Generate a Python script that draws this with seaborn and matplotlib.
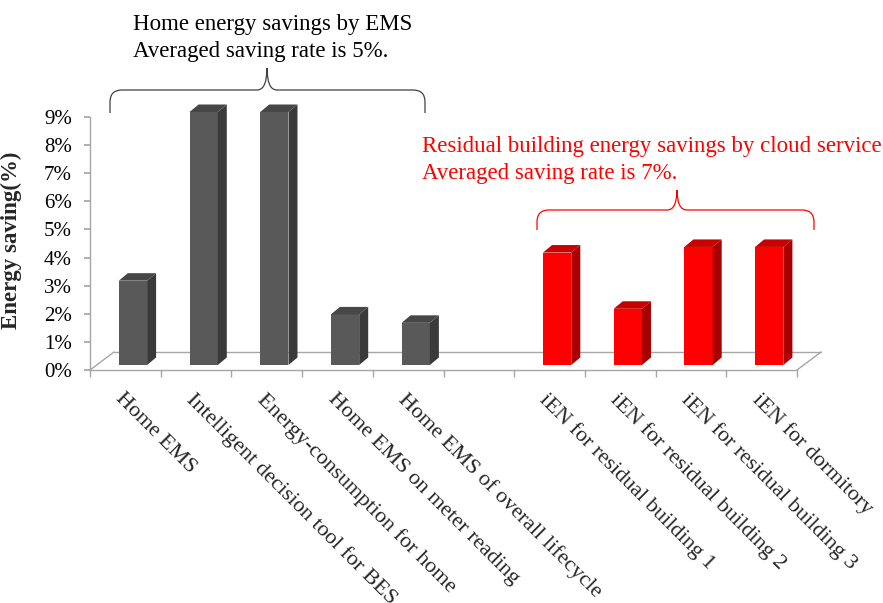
import numpy as np
import pandas as pd
import matplotlib
matplotlib.use("Agg")
import matplotlib.pyplot as plt
import seaborn as sns
from matplotlib.transforms import ScaledTranslation
from matplotlib.patches import Polygon, PathPatch
from matplotlib.path import Path

# ---------------- data ----------------
home_categories = ["Home EMS", "Intelligent decision tool for BES", "Energy-consumption for home",
                   "Home EMS on meter reading", "Home EMS of overall lifecycle"]
home_values = [3.0, 9.0, 9.0, 1.8, 1.5]
cloud_categories = ["iEN for residual building 1", "iEN for residual building 2",
                    "iEN for residual building 3", "iEN for dormitory"]
cloud_values = [4.0, 2.0, 4.2, 4.2]
gap_category = [" "]
y_ticks = [0, 1, 2, 3, 4, 5, 6, 7, 8, 9]
y_tick_labels = [f"{v}%" for v in y_ticks]
home_note = ["Home energy savings by EMS", "Averaged saving rate is 5%."]
cloud_note = ["Residual building energy savings by cloud service", "Averaged saving rate is 7%."]

order = home_categories + gap_category + cloud_categories
df = pd.DataFrame({
    "category": home_categories + cloud_categories,
    "saving": home_values + cloud_values,
    "group": ["EMS"] * len(home_categories) + ["Cloud"] * len(cloud_categories),
})

front = {"EMS": "#595959", "Cloud": "#FF0000"}
side = {"EMS": "#3a3a3a", "Cloud": "#a80000"}
top = {"EMS": "#474747", "Cloud": "#c80000"}

# ---------------- figure ----------------
sns.set_theme(style="white")
plt.rcParams["font.family"] = ["Liberation Serif", "DejaVu Serif"]

W, H = 883, 603
fig = plt.figure(figsize=(W / 100, H / 100), dpi=100)
ax_left, ax_right, ax_top, ax_bottom = 90, 797, 117, 370
ax = fig.add_axes([ax_left / W, 1 - ax_bottom / H, (ax_right - ax_left) / W, (ax_bottom - ax_top) / H])

sns.barplot(data=df, x="category", y="saving", hue="group", order=order,
            palette=front, dodge=False, width=0.4, legend=False, ax=ax,
            saturation=1, linewidth=0)

ax.set_xlim(-0.5, len(order) - 0.5)
ax.set_ylim(0, 9)

# pixels per data unit
p0 = ax.transData.transform((0, 0))
p1 = ax.transData.transform((1, 1))
ppx, ppy = p1[0] - p0[0], p1[1] - p0[1]
ddx, ddy = 9 / ppx, 7.5 / ppy

offset = ScaledTranslation(7.6 / 100, 5 / 100, fig.dpi_scale_trans)
trans = ax.transData + offset

red_rgb = np.array(matplotlib.colors.to_rgb(front["Cloud"]))
for p in list(ax.patches):
    h = p.get_height()
    if not np.isfinite(h) or h <= 0:
        continue
    g = "Cloud" if np.allclose(np.array(p.get_facecolor()[:3]), red_rgb, atol=0.05) else "EMS"
    p.set_transform(trans)
    p.set_clip_on(False)
    x0, y0, w = p.get_x(), p.get_y(), p.get_width()
    s = Polygon([(x0 + w, y0), (x0 + w + ddx, y0 + ddy), (x0 + w + ddx, y0 + h + ddy), (x0 + w, y0 + h)],
                closed=True, facecolor=side[g], edgecolor="none", transform=trans, clip_on=False)
    t = Polygon([(x0, y0 + h), (x0 + w, y0 + h), (x0 + w + ddx, y0 + h + ddy), (x0 + ddx, y0 + h + ddy)],
                closed=True, facecolor=top[g], edgecolor="none", transform=trans, clip_on=False)
    ax.add_patch(s)
    ax.add_patch(t)

# spines / floor
line_c = "#a6a6a6"
for sp in ["top", "right"]:
    ax.spines[sp].set_visible(False)
for sp in ["left", "bottom"]:
    ax.spines[sp].set_color(line_c)
    ax.spines[sp].set_linewidth(1.0)
floor_off = ax.transAxes + ScaledTranslation(24 / 100, 18 / 100, fig.dpi_scale_trans)
ax.plot([0, 1], [0, 0], color=line_c, lw=1.0, transform=floor_off, clip_on=False, zorder=0)
ax.plot([0, 24 / (ax_right - ax_left)], [0, 18 / (ax_bottom - ax_top)],
        color=line_c, lw=1.0, transform=ax.transAxes, clip_on=False, zorder=0)
ax.plot([1, 1 + 24 / (ax_right - ax_left)], [0, 18 / (ax_bottom - ax_top)],
        color=line_c, lw=1.0, transform=ax.transAxes, clip_on=False, zorder=0)

# ticks
ax.set_yticks(y_ticks)
ax.set_yticklabels(y_tick_labels, fontsize=15)
ax.tick_params(axis="y", which="major", left=True, length=4, color=line_c, pad=9, labelcolor="black")
ax.set_xticks(range(len(order)))
ax.set_xticklabels(order, rotation=-45, ha="left", rotation_mode="anchor", fontsize=16)
ax.tick_params(axis="x", which="major", bottom=False, length=0, pad=14)
ax.set_xticks(np.arange(-0.5, len(order), 1.0), minor=True)
ax.tick_params(axis="x", which="minor", bottom=True, length=5, color=line_c, direction="out")
ax.set_xlabel("")
ax.set_ylabel("Energy saving(%)", fontsize=16.5, fontweight="bold")
ax.yaxis.set_label_coords(-(90 - 22) / (ax_right - ax_left), (370 - 240) / 253)
ax.grid(False)

# annotations
def ftext(x, y, s, color):
    fig.text(x / W, 1 - y / H, s, color=color, fontsize=16.5, va="baseline", ha="left")

ftext(133, 30, home_note[0], "black")
ftext(133, 57, home_note[1], "black")
ftext(422, 152, cloud_note[0], "#FF0000")
ftext(422, 179, cloud_note[1], "#FF0000")

def brace(xl, xr, yb, yh, xm, yt, color, r=12, r2=10):
    pts = [(xl, yb), (xl, yh + r), (xl, yh), (xl + r, yh), (xm - r2, yh), (xm, yh), (xm, yt),
           (xm, yh), (xm + r2, yh), (xr - r, yh), (xr, yh), (xr, yh + r), (xr, yb)]
    codes = [Path.MOVETO, Path.LINETO, Path.CURVE3, Path.CURVE3, Path.LINETO, Path.CURVE3, Path.CURVE3,
             Path.CURVE3, Path.CURVE3, Path.LINETO, Path.CURVE3, Path.CURVE3, Path.LINETO]
    pts = [(x / W, 1 - y / H) for x, y in pts]
    fig.add_artist(PathPatch(Path(pts, codes), facecolor="none", edgecolor=color, lw=0.9,
                             transform=fig.transFigure))

brace(110, 425, 113, 90, 267, 68, "#404040")
brace(537, 814, 230, 210, 677, 190, "#FF0000")

fig.savefig("out.png", dpi=100)
